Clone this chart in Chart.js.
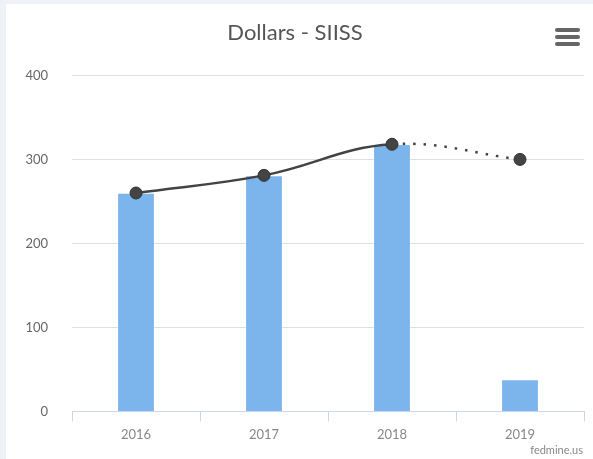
<!DOCTYPE html>
<html>
<head>
<meta charset="utf-8">
<script src="https://cdn.jsdelivr.net/npm/chart.js@4.4.0/dist/chart.umd.min.js"></script>
<style>
  body { margin: 0; background: #eef1f6; font-family: Lato, "Open Sans", sans-serif; }
  #wrap { position: absolute; left: 6px; top: 4px; width: 587px; height: 455px; background: #fff; }
  #menu { position: absolute; left: 549px; top: 24px; width: 25px; }
  #menu div { height: 4px; background: #666; border-radius: 2px; margin-bottom: 3px; }
  #credit { position: absolute; right: 10px; top: 439px; font-size: 11px; color: #888; }
</style>
</head>
<body>
<div id="wrap">
  <canvas id="chart" width="587" height="455"></canvas>
  <div id="menu"><div></div><div></div><div></div></div>
  <div id="credit">fedmine.us</div>
</div>
<script>
// Chart data
const years = ['2016', '2017', '2018', '2019'];
const dollars = [259, 280, 317, 37];
const trend = [260, 281, 318, 300];
const yTicks = [0, 100, 200, 300, 400];

// Dotted segment after the last full year
const dottedFrom = 2;

const ctx = document.getElementById('chart').getContext('2d');
new Chart(ctx, {
    type: 'bar',
    data: {
        labels: years,
        datasets: [{
            type: 'line',
            data: trend,
            borderColor: '#434343',
            borderWidth: 2.5,
            tension: 0.4,
            pointRadius: 6,
            pointBackgroundColor: '#444',
            pointBorderColor: '#333',
            pointBorderWidth: 1,
            segment: {
                borderDash: c => c.p0DataIndex >= dottedFrom ? [2.5, 8] : undefined
            },
            order: 0
        }, {
            data: dollars,
            backgroundColor: '#7cb5ec',
            categoryPercentage: 1,
            barPercentage: 0.28,
            order: 1
        }]
    },
    options: {
        responsive: false,
        animation: false,
        events: [],
        layout: { padding: { left: 0, right: 9, top: 0, bottom: 10 } },
        plugins: {
            legend: { display: false },
            tooltip: { enabled: false },
            title: {
                display: true,
                text: 'Dollars - SIISS',
                color: '#555',
                font: { family: 'Lato', size: 22, weight: 'normal' },
                padding: { top: 16, bottom: 29 }
            }
        },
        scales: {
            x: {
                grid: { drawOnChartArea: false, offset: true, tickLength: 10, color: '#ccd6eb' },
                border: { color: '#ccd6eb' },
                ticks: { color: '#888', font: { family: 'Lato', size: 13 }, padding: 6 }
            },
            y: {
                min: 0,
                max: 400,
                afterBuildTicks: s => { s.ticks = yTicks.map(v => ({ value: v })); },
                afterFit: s => { s.width = 66; },
                grid: { color: '#e0e0e0', drawTicks: false },
                border: { display: false },
                ticks: { color: '#666', font: { family: 'Lato', size: 13 }, padding: 24 }
            }
        }
    }
});
</script>
</body>
</html>
